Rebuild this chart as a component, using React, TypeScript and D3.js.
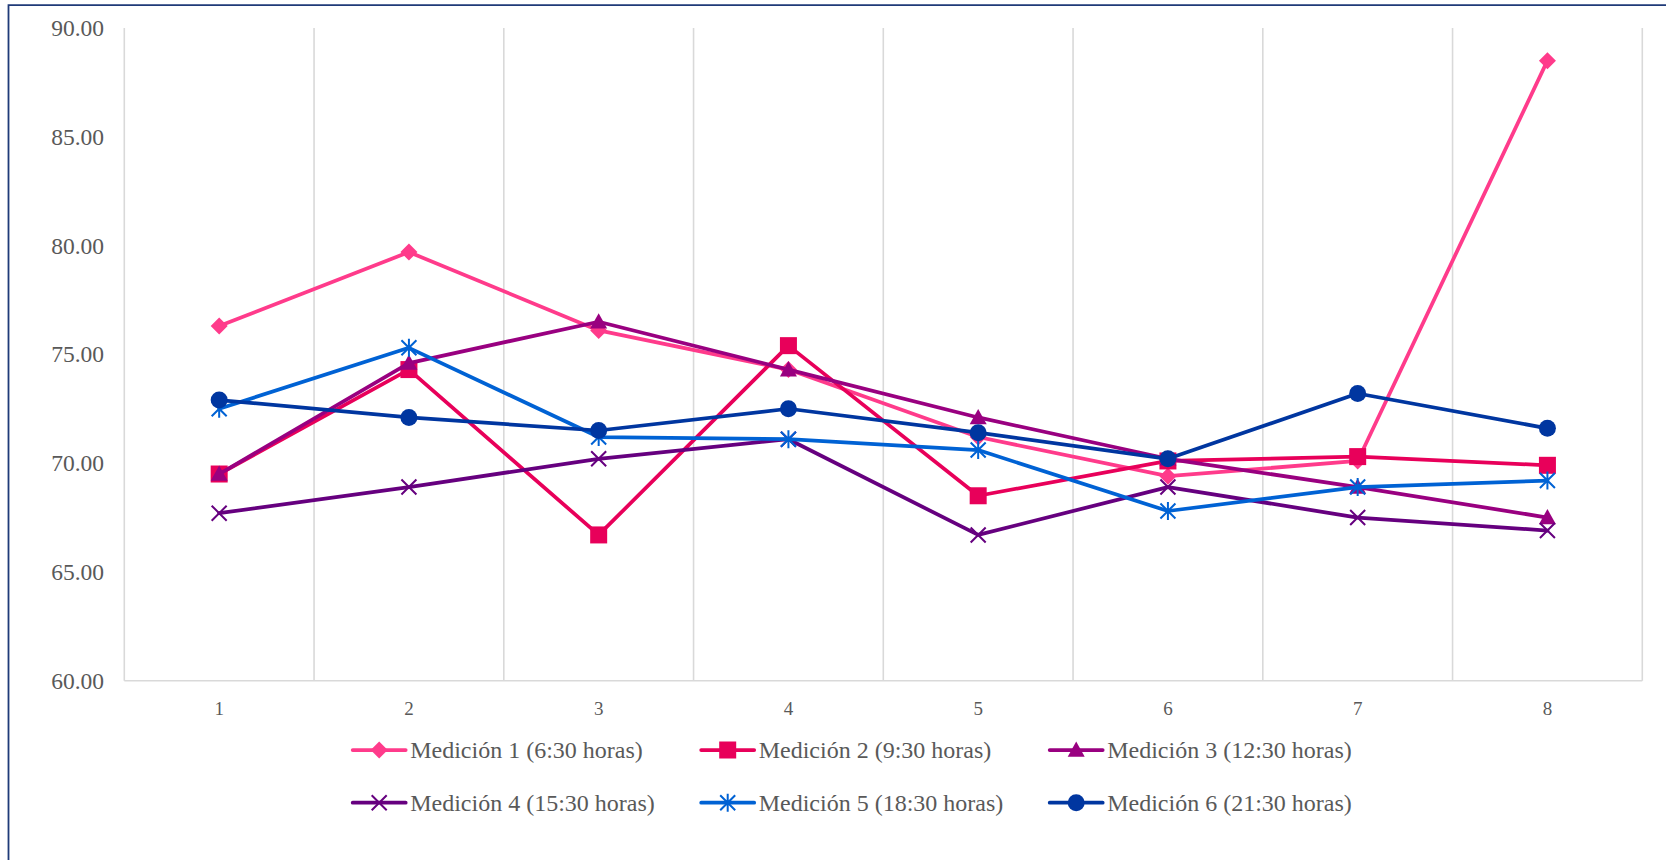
import React from "react";
import * as d3 from "d3";

// Category labels on the x axis
const categories = ["1", "2", "3", "4", "5", "6", "7", "8"];

// Y axis ticks
const yTicks = [60, 65, 70, 75, 80, 85, 90];

// Series names
const seriesNames = [
  "Medición 1 (6:30 horas)",
  "Medición 2 (9:30 horas)",
  "Medición 3 (12:30 horas)",
  "Medición 4 (15:30 horas)",
  "Medición 5 (18:30 horas)",
  "Medición 6 (21:30 horas)",
];

// Series values
const medicion1 = [76.3, 79.7, 76.1, 74.3, 71.2, 69.4, 70.1, 88.5];
const medicion2 = [69.5, 74.3, 66.7, 75.4, 68.5, 70.1, 70.3, 69.9];
const medicion3 = [69.5, 74.6, 76.5, 74.3, 72.1, 70.2, 68.9, 67.5];
const medicion4 = [67.7, 68.9, 70.2, 71.1, 66.7, 68.9, 67.5, 66.9];
const medicion5 = [72.5, 75.3, 71.2, 71.1, 70.6, 67.8, 68.9, 69.2];
const medicion6 = [72.9, 72.1, 71.5, 72.5, 71.4, 70.2, 73.2, 71.6];

const seriesValues = [medicion1, medicion2, medicion3, medicion4, medicion5, medicion6];
const seriesColors = ["#FF3B8B", "#E8005A", "#990080", "#66007F", "#0062D4", "#0036A0"];
const seriesMarkers = ["diamond", "square", "triangle", "x", "star", "circle"];

const FONT = '"Liberation Serif", "Times New Roman", serif';
const TEXT = "#595959";

const W = 1666;
const H = 860;
const plotLeft = 124.3;
const plotRight = 1642.3;
const plotTop = 28;
const plotBottom = 680.7;

function Marker({ type, x, y, color }: { type: string; x: number; y: number; color: string }) {
  const r = 8.5;
  switch (type) {
    case "diamond":
      return (
        <path
          d={`M${x},${y - r} L${x + r},${y} L${x},${y + r} L${x - r},${y} Z`}
          fill={color}
        />
      );
    case "square":
      return <rect x={x - r} y={y - r} width={2 * r} height={2 * r} fill={color} />;
    case "triangle":
      return (
        <path
          d={`M${x},${y - r} L${x + r},${y + r * 0.8} L${x - r},${y + r * 0.8} Z`}
          fill={color}
        />
      );
    case "x": {
      const a = 7.5;
      return (
        <path
          d={`M${x - a},${y - a} L${x + a},${y + a} M${x - a},${y + a} L${x + a},${y - a}`}
          stroke={color}
          strokeWidth={2}
          fill="none"
        />
      );
    }
    case "star": {
      const a = 7.5;
      return (
        <path
          d={`M${x - a},${y - a} L${x + a},${y + a} M${x - a},${y + a} L${x + a},${y - a} M${x},${y - r - 0.5} L${x},${y + r + 0.5}`}
          stroke={color}
          strokeWidth={2}
          fill="none"
        />
      );
    }
    default:
      return <circle cx={x} cy={y} r={r} fill={color} />;
  }
}

export default function App() {
  const x = d3.scaleBand<string>().domain(categories).range([plotLeft, plotRight]);
  const y = d3.scaleLinear().domain([60, 90]).range([plotBottom, plotTop]);
  const cx = (c: string) => (x(c) as number) + x.bandwidth() / 2;
  const fmt = d3.format(".2f");

  const line = d3
    .line<number>()
    .x((_, i) => cx(categories[i]))
    .y((d) => y(d));

  const gridXs = categories.map((c) => x(c) as number).concat([plotRight]);

  const legendX0 = 352.7;
  const legendColW = 348.5;
  const legendRows = [750, 802.7];
  const legendLine = 53;

  return (
    <svg
      width={W}
      height={H}
      style={{ position: "absolute", left: 0, top: 0, background: "#fff" }}
      fontFamily={FONT}
    >
      <rect x={0} y={0} width={W} height={H} fill="#fff" />
      {/* chart frame */}
      <path d={`M8.5,${H + 2} L8.5,5.2 L${W + 2},5.2`} fill="none" stroke="#1F3A78" strokeWidth={1.8} />

      {/* vertical gridlines */}
      {gridXs.map((gx, i) => (
        <line key={i} x1={gx} x2={gx} y1={plotTop} y2={plotBottom} stroke="#D9D9D9" strokeWidth={1.6} />
      ))}
      {/* category axis */}
      <line x1={plotLeft} x2={plotRight} y1={plotBottom} y2={plotBottom} stroke="#D9D9D9" strokeWidth={1.6} />

      {/* y tick labels */}
      {yTicks.map((t) => (
        <text
          key={t}
          x={104}
          y={y(t)}
          textAnchor="end"
          dominantBaseline="central"
          fontSize={23.5}
          fill={TEXT}
        >
          {fmt(t)}
        </text>
      ))}

      {/* x tick labels */}
      {categories.map((c) => (
        <text key={c} x={cx(c)} y={708} textAnchor="middle" dominantBaseline="central" fontSize={19} fill={TEXT}>
          {c}
        </text>
      ))}

      {/* series */}
      {seriesValues.map((vals, si) => (
        <g key={si}>
          <path
            d={line(vals) as string}
            fill="none"
            stroke={seriesColors[si]}
            strokeWidth={3.75}
            strokeLinejoin="round"
            strokeLinecap="round"
          />
          {vals.map((v, i) => (
            <Marker key={i} type={seriesMarkers[si]} x={cx(categories[i])} y={y(v)} color={seriesColors[si]} />
          ))}
        </g>
      ))}

      {/* legend */}
      {seriesNames.map((name, i) => {
        const col = i % 3;
        const row = Math.floor(i / 3);
        const lx = legendX0 + col * legendColW;
        const ly = legendRows[row];
        return (
          <g key={name}>
            <line
              x1={lx}
              x2={lx + legendLine}
              y1={ly}
              y2={ly}
              stroke={seriesColors[i]}
              strokeWidth={3.75}
              strokeLinecap="round"
            />
            <Marker type={seriesMarkers[i]} x={lx + legendLine / 2} y={ly} color={seriesColors[i]} />
            <text x={lx + legendLine + 4.5} y={ly} dominantBaseline="central" fontSize={24} fill={TEXT}>
              {name}
            </text>
          </g>
        );
      })}
    </svg>
  );
}
